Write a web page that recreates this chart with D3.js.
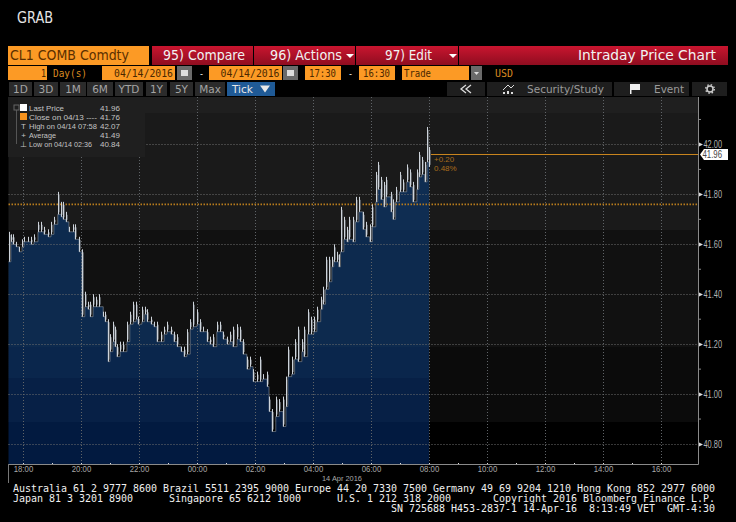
<!DOCTYPE html>
<html>
<head>
<meta charset="utf-8">
<script src="https://cdn.jsdelivr.net/npm/d3@7"></script>
<style>
  html, body { margin: 0; padding: 0; background: #000; overflow: hidden; }
  svg { display: block; }
  text { white-space: pre; }
  .ui { font-family: "DejaVu Sans", sans-serif; }
  .mono { font-family: "DejaVu Sans Mono", monospace; }
  .small { font-family: "Liberation Sans", Arial, sans-serif; }
  .axis path { display: none; }
</style>
</head>
<body>
<div id="chart"></div>
<script>
// minutes since 17:30 on 04/13, one entry per tick bar
var tickMinutes = [
  0,5,9,16,22,28,32,40,47,53,
  61,67,73,82,88,94,102,109,113,119,
  125,133,138,146,152,158,164,169,175,181,
  187,196,200,206,210,216,220,224,231,237,
  245,251,258,264,268,276,282,287,295,301,
  307,315,322,328,336,342,349,357,363,369,
  376,382,390,396,402,411,417,423,431,438,
  444,452,458,464,473,479,485,493,500,506,
  514,520,526,535,539,545,553,560,568,574,
  578,586,592,599,607,611,619,625,632,638,
  646,650,656,663,669,673,679,683,687,694,
  700,704,712,718,725,733,739,747,753,760,
  764,770,776,782,791,795,801,809,816,824,
  830,836,845,849,855,861,866,870];
var highs = [
  41.65,41.64,41.64,41.61,41.59,41.62,41.63,41.63,41.63,41.64,
  41.69,41.69,41.67,41.66,41.69,41.71,41.81,41.77,41.77,41.73,
  41.67,41.68,41.68,41.63,41.58,41.41,41.37,41.37,41.40,41.39,
  41.40,41.33,41.33,41.30,41.24,41.29,41.27,41.20,41.21,41.21,
  41.29,41.33,41.37,41.37,41.31,41.35,41.35,41.34,41.31,41.29,
  41.29,41.25,41.27,41.29,41.27,41.25,41.24,41.19,41.19,41.26,
  41.30,41.37,41.34,41.30,41.27,41.26,41.23,41.24,41.29,41.29,
  41.25,41.23,41.25,41.27,41.28,41.27,41.22,41.15,41.15,41.10,
  41.09,41.15,41.08,41.09,40.99,40.94,40.99,40.98,40.99,41.07,
  41.19,41.15,41.22,41.27,41.22,41.27,41.34,41.31,41.31,41.35,
  41.39,41.43,41.55,41.55,41.55,41.60,41.57,41.56,41.75,41.71,
  41.67,41.71,41.71,41.79,41.79,41.73,41.69,41.68,41.76,41.89,
  41.93,41.87,41.85,41.87,41.81,41.78,41.83,41.89,41.86,41.92,
  41.90,41.85,41.90,41.97,41.95,41.93,42.07,41.99];
var lows = [
  41.53,41.61,41.60,41.59,41.57,41.59,41.61,41.61,41.60,41.61,
  41.65,41.65,41.64,41.63,41.64,41.68,41.72,41.71,41.70,41.69,
  41.65,41.65,41.62,41.57,41.31,41.35,41.34,41.31,41.35,41.35,
  41.35,41.31,41.29,41.13,41.17,41.21,41.19,41.15,41.17,41.17,
  41.21,41.28,41.29,41.30,41.28,41.29,41.32,41.29,41.28,41.27,
  41.21,41.21,41.24,41.25,41.24,41.21,41.19,41.17,41.15,41.16,
  41.26,41.27,41.28,41.25,41.25,41.21,41.20,41.19,41.25,41.25,
  41.22,41.20,41.21,41.19,41.22,41.21,41.16,41.10,41.11,41.05,
  41.05,41.05,41.06,41.03,40.93,40.85,40.91,40.93,40.87,40.95,
  41.07,41.08,41.14,41.13,41.17,41.15,41.24,41.24,41.25,41.29,
  41.34,41.36,41.42,41.45,41.51,41.53,41.53,41.51,41.57,41.62,
  41.61,41.62,41.61,41.69,41.73,41.66,41.63,41.61,41.67,41.77,
  41.82,41.78,41.75,41.79,41.73,41.70,41.77,41.81,41.81,41.85,
  41.83,41.77,41.82,41.87,41.88,41.85,41.93,41.91];

var lastPrice = 41.96, prevClose = 41.76;
var majorPrices = [42.00, 41.80, 41.60, 41.40, 41.20, 41.00, 40.80];
var minorPrices = [42.10, 41.90, 41.70, 41.50, 41.30, 41.10, 40.90];
var hourTicks = [30,150,270,390,510,630,750,870,990,1110,1230,1350];
var hourMinor = [90,210,330,450,570,690,810,930,1050,1170,1290];
var hourLabels = ["18:00","20:00","22:00","00:00","02:00","04:00","06:00","08:00","10:00","12:00","14:00","16:00"];
var rangeButtons = ["1D","3D","1M","6M","YTD","1Y","5Y","Max"];
var legendLabels = ["Last Price","Close on 04/13 ----","High on 04/14 07:58","Average","Low on 04/14 02:36"];
var legendValues = ["41.96","41.76","42.07","41.49","40.84"];
var footerLines = [
  "Australia 61 2 9777 8600 Brazil 5511 2395 9000 Europe 44 20 7330 7500 Germany 49 69 9204 1210 Hong Kong 852 2977 6000",
  "Japan 81 3 3201 8900      Singapore 65 6212 1000      U.S. 1 212 318 2000       Copyright 2016 Bloomberg Finance L.P.",
  "SN 725688 H453-2837-1 14-Apr-16  8:13:49 VET  GMT-4:30"];

var bars = tickMinutes.map(function(m, i) {
  return {minute: m, high: highs[i], low: lows[i]};
});

var svg = d3.select("#chart").append("svg")
    .attr("width", 736)
    .attr("height", 522);

var plot = {left: 8.5, right: 698, top: 97, bottom: 464};

var x = d3.scaleLinear().domain([0, 1380]).range([plot.left, plot.left + 667]);
var y = d3.scaleLinear().domain([40.72, 42.19]).range([plot.bottom, plot.top]);

// hard stop gradients give the banded look of the terminal
function bands(id, stops) {
  var grad = svg.append("defs").append("linearGradient")
      .attr("id", id)
      .attr("gradientUnits", "userSpaceOnUse")
      .attr("x1", 0).attr("x2", 0)
      .attr("y1", plot.top).attr("y2", plot.bottom);
  stops.forEach(function(s, i) {
    var from = (s[0] - plot.top) / (plot.bottom - plot.top);
    var to = i < stops.length - 1 ? (stops[i + 1][0] - plot.top) / (plot.bottom - plot.top) : 1;
    grad.append("stop").attr("offset", from).attr("stop-color", s[1]);
    grad.append("stop").attr("offset", to).attr("stop-color", s[1]);
  });
}
bands("bgBands", [[97,"#1f1f1f"],[113,"#1a1a1a"],[230,"#111111"],[347,"#0b0b0b"],[422,"#000000"]]);
bands("blueBands", [[97,"#0f2d52"],[230,"#0d2a4e"],[347,"#0a264c"],[378,"#072046"],[422,"#021a40"]]);

svg.append("rect")
    .attr("x", plot.left).attr("y", plot.top)
    .attr("width", plot.right - plot.left).attr("height", plot.bottom - plot.top)
    .attr("fill", "url(#bgBands)");

// blue area under the ticks
var area = d3.area()
    .curve(d3.curveStepAfter)
    .x(function(d) { return x(d.minute); })
    .y0(plot.bottom)
    .y1(function(d) { return y(d.low); });
svg.append("path")
    .datum(bars)
    .attr("d", area)
    .attr("fill", "url(#blueBands)");

// grid
svg.append("g").selectAll("line")
    .data(majorPrices)
    .enter().append("line")
    .attr("x1", plot.left).attr("x2", plot.right)
    .attr("y1", function(d) { return Math.round(y(d)) + 0.5; })
    .attr("y2", function(d) { return Math.round(y(d)) + 0.5; })
    .attr("stroke", "#6e6e6e")
    .attr("stroke-dasharray", "1,2");
svg.append("g").selectAll("line")
    .data(hourTicks)
    .enter().append("line")
    .attr("y1", plot.top).attr("y2", plot.bottom)
    .attr("x1", function(d) { return Math.round(x(d)) + 0.5; })
    .attr("x2", function(d) { return Math.round(x(d)) + 0.5; })
    .attr("stroke", "#606468")
    .attr("stroke-dasharray", "1,2");

// previous close and last price
svg.append("line")
    .attr("x1", plot.left).attr("x2", plot.right)
    .attr("y1", y(prevClose)).attr("y2", y(prevClose))
    .attr("stroke", "#b87c1c").attr("stroke-width", 1.6)
    .attr("stroke-dasharray", "1.5,1.5");
svg.append("line")
    .attr("x1", x(870)).attr("x2", plot.right)
    .attr("y1", Math.round(y(lastPrice)) + 0.5).attr("y2", Math.round(y(lastPrice)) + 0.5)
    .attr("stroke", "#c8841e");

// tick bars, a grey under layer then the bright line
function barX(d) { return Math.round(x(d.minute)) + 0.5; }
svg.append("path")
    .datum(bars)
    .attr("d", d3.line().curve(d3.curveStepAfter)
      .x(function(d) { return x(d.minute); })
      .y(function(d) { return y(d.low); }))
    .attr("fill", "none")
    .attr("stroke", "#8a929c")
    .attr("stroke-width", 0.6);
svg.append("g").selectAll("line")
    .data(bars)
    .enter().append("line")
    .attr("x1", function(d) { return barX(d) + 1; })
    .attr("x2", function(d) { return barX(d) + 1; })
    .attr("y1", function(d) { return y(d.high) + 3; })
    .attr("y2", function(d) { return y(d.low) - 2; })
    .attr("stroke", "#55595e");
svg.append("g").selectAll("line")
    .data(bars)
    .enter().append("line")
    .attr("x1", barX)
    .attr("x2", barX)
    .attr("y1", function(d) { return y(d.high); })
    .attr("y2", function(d) { return y(d.low); })
    .attr("stroke", "#cdd3da")
    .attr("stroke-width", 1);

// axes
var xAxis = svg.append("g")
    .attr("class", "axis small")
    .attr("transform", "translate(0," + plot.bottom + ")")
    .call(d3.axisBottom(x).tickValues(hourTicks).tickSize(0).tickPadding(2)
      .tickFormat(function(d, i) { return hourLabels[i]; }));
xAxis.selectAll("text")
    .attr("fill", "#a8a8a8").attr("textLength", 19.5).attr("lengthAdjust", "spacingAndGlyphs")
    .style("font-size", "9px").style("font-family", "Liberation Sans");

svg.append("g").selectAll("line")
    .data(hourTicks.concat(hourMinor))
    .enter().append("line")
    .attr("x1", function(d) { return Math.round(x(d)) + 0.5; })
    .attr("x2", function(d) { return Math.round(x(d)) + 0.5; })
    .attr("y1", plot.bottom - 1).attr("y2", plot.bottom + 1)
    .attr("stroke", "#ddd");

var yAxis = svg.append("g")
    .attr("class", "axis small")
    .attr("transform", "translate(" + plot.right + ",0)")
    .call(d3.axisRight(y).tickValues(majorPrices).tickSize(0).tickPadding(5.5)
      .tickFormat(d3.format(".2f")));
yAxis.selectAll("text")
    .attr("fill", "#b4b4b4").attr("textLength", 18.5).attr("lengthAdjust", "spacingAndGlyphs")
    .style("font-size", "10px").style("font-family", "Liberation Sans");

svg.append("g").selectAll("path")
    .data(majorPrices)
    .enter().append("path")
    .attr("d", function(d) {
      var py = Math.round(y(d)) + 0.5;
      return "M" + (plot.right + 1) + "," + (py - 2) + "L" + (plot.right + 5) + "," + py + "L" + (plot.right + 1) + "," + (py + 2) + "Z";
    })
    .attr("fill", "#ddd");
svg.append("g").selectAll("line")
    .data(minorPrices)
    .enter().append("line")
    .attr("x1", plot.right).attr("x2", plot.right + 3)
    .attr("y1", function(d) { return y(d); })
    .attr("y2", function(d) { return y(d); })
    .attr("stroke", "#888");

svg.append("line").attr("x1", plot.right + 0.5).attr("x2", plot.right + 0.5)
    .attr("y1", plot.top).attr("y2", plot.bottom + 0.5).attr("stroke", "#8a8a8a");
svg.append("line").attr("x1", plot.left).attr("x2", plot.right + 0.5)
    .attr("y1", plot.bottom + 0.5).attr("y2", plot.bottom + 0.5).attr("stroke", "#8a8a8a");
svg.append("line").attr("x1", 8.5).attr("x2", 8.5)
    .attr("y1", plot.bottom).attr("y2", plot.bottom + 19).attr("stroke", "#777");

svg.append("text").attr("class", "small")
    .attr("x", 322).attr("y", 481)
    .attr("textLength", 40).attr("lengthAdjust", "spacingAndGlyphs")
    .attr("fill", "#a8a8a8").style("font-size", "8px").text("14 Apr 2016");

// change labels and last price flag
svg.append("text").attr("class", "small").attr("x", 434).attr("y", 162)
    .attr("fill", "#a86c1c").style("font-size", "8px").text("+0.20");
svg.append("text").attr("class", "small").attr("x", 434).attr("y", 171)
    .attr("fill", "#a86c1c").style("font-size", "8px").text("0.48%");
var flagY = Math.round(y(lastPrice)) + 0.5;
svg.append("path")
    .attr("d", "M700," + flagY + "L704," + (flagY - 5.5) + "H728V" + (flagY + 5.5) + "H704Z")
    .attr("fill", "#fff");
svg.append("text").attr("class", "small").attr("x", 702.5).attr("y", flagY + 3.5)
    .attr("textLength", 19.5).attr("lengthAdjust", "spacingAndGlyphs")
    .attr("fill", "#444").style("font-size", "10px").text(lastPrice.toFixed(2));

// legend
svg.append("rect").attr("x", 8).attr("y", 97).attr("width", 137).attr("height", 60)
    .attr("fill", "#1f1f1f");
svg.append("line").attr("x1", 16.5).attr("x2", 16.5).attr("y1", 110).attr("y2", 144).attr("stroke", "#555");
svg.append("rect").attr("x", 14).attr("y", 105).attr("width", 5).attr("height", 5)
    .attr("fill", "none").attr("stroke", "#666");
svg.append("rect").attr("x", 20).attr("y", 104).attr("width", 7).attr("height", 7).attr("fill", "#fff");
svg.append("rect").attr("x", 20).attr("y", 113).attr("width", 7).attr("height", 7).attr("fill", "#f7931e");
var legendMarks = ["", "", "T", "+", "\u22a5"];
var legendWidths = [35, 68, 68, 27, 63];
legendLabels.forEach(function(label, i) {
  var ly = 111 + i * 9;
  svg.append("text").attr("class", "small").attr("x", 29).attr("y", ly)
      .attr("textLength", legendWidths[i]).attr("lengthAdjust", "spacingAndGlyphs")
      .attr("fill", "#c4c4c4").style("font-size", "8px").text(label);
  svg.append("text").attr("class", "small").attr("x", 120).attr("y", ly)
      .attr("text-anchor", "end")
      .attr("fill", "#c4c4c4").style("font-size", "8px").text(legendValues[i]);
  if (legendMarks[i]) {
    svg.append("text").attr("class", "small").attr("x", 23.5).attr("y", ly)
        .attr("text-anchor", "middle")
        .attr("fill", "#c4c4c4").style("font-size", "8px").text(legendMarks[i]);
  }
});

// header row
var redGrad = svg.append("defs").append("linearGradient")
    .attr("id", "redBtn").attr("x1", 0).attr("x2", 0).attr("y1", 0).attr("y2", 1);
redGrad.append("stop").attr("offset", 0).attr("stop-color", "#c9152f");
redGrad.append("stop").attr("offset", 1).attr("stop-color", "#8f0d20");

svg.append("text").attr("class", "ui").attr("x", 17).attr("y", 23)
    .attr("textLength", 36).attr("lengthAdjust", "spacingAndGlyphs")
    .attr("fill", "#e4e4e4").style("font-size", "15px").text("GRAB");

svg.append("rect").attr("x", 8).attr("y", 46).attr("width", 141).attr("height", 19).attr("fill", "#fc9a25");
svg.append("text").attr("class", "ui").attr("x", 10).attr("y", 60)
    .attr("textLength", 119).attr("lengthAdjust", "spacingAndGlyphs")
    .attr("fill", "#5b2f00").style("font-size", "14px").text("CL1 COMB Comdty");

var redButtons = [
  {x: 152, w: 101, label: "95) Compare", tx: 163, tw: 82, arrow: false},
  {x: 254, w: 101, label: "96) Actions", tx: 270, tw: 72, arrow: true},
  {x: 356, w: 102, label: "97) Edit", tx: 385, tw: 47, arrow: true},
  {x: 459, w: 269, label: "Intraday Price Chart", tx: 578, tw: 138, arrow: false}
];
redButtons.forEach(function(b) {
  svg.append("rect").attr("x", b.x).attr("y", 46).attr("width", b.w).attr("height", 19)
      .attr("fill", "url(#redBtn)");
  svg.append("text").attr("class", "ui").attr("x", b.tx).attr("y", 60)
      .attr("textLength", b.tw).attr("lengthAdjust", "spacingAndGlyphs")
      .attr("fill", "#f2f2f2").style("font-size", "14px").text(b.label);
  if (b.arrow) {
    var ax = b.x + b.w - 5;
    svg.append("path")
        .attr("d", "M" + (ax - 4) + ",54H" + (ax + 4) + "L" + ax + ",58Z")
        .attr("fill", "#fff");
  }
});

// second row
var orangeBoxes = [[8,39],[102,73],[209,73],[305,36],[359,36],[402,67]];
orangeBoxes.forEach(function(b) {
  svg.append("rect").attr("x", b[0]).attr("y", 66).attr("width", b[1]).attr("height", 14).attr("fill", "#fc9a25");
});
[177, 283].forEach(function(cx) {
  svg.append("rect").attr("x", cx).attr("y", 66).attr("width", 15).attr("height", 14).attr("fill", "#6a6a6a");
  svg.append("rect").attr("x", cx + 4).attr("y", 70).attr("width", 7).attr("height", 6).attr("fill", "#ddd");
});
svg.append("rect").attr("x", 471).attr("y", 66).attr("width", 11).attr("height", 14).attr("fill", "#6a6a6a");
svg.append("path").attr("d", "M474,72H479L476.5,75Z").attr("fill", "#ddd");

var rowTexts = [
  {x: 41, t: "1", c: "#4a2800", w: 5},
  {x: 53, t: "Day(s)", c: "#d98a20", w: 34},
  {x: 114, t: "04/14/2016", c: "#4a2800", w: 59},
  {x: 199, t: "-", c: "#e0e0e0", w: 5},
  {x: 220.5, t: "04/14/2016", c: "#4a2800", w: 59},
  {x: 348, t: "-", c: "#e0e0e0", w: 5},
  {x: 309, t: "17:30", c: "#4a2800", w: 27},
  {x: 363, t: "16:30", c: "#4a2800", w: 27},
  {x: 404, t: "Trade", c: "#4a2800", w: 27},
  {x: 495, t: "USD", c: "#d98a20", w: 18}
];
rowTexts.forEach(function(r) {
  svg.append("text").attr("class", "mono").attr("x", r.x).attr("y", 77)
      .attr("textLength", r.w).attr("lengthAdjust", "spacingAndGlyphs")
      .attr("fill", r.c).style("font-size", "11px").text(r.t);
});

// third row
var rangeX = [9,34,60,87,115,146,170,195];
var rangeW = [23,24,26,26,28,21,23,30];
rangeButtons.forEach(function(label, i) {
  svg.append("rect").attr("x", rangeX[i]).attr("y", 82).attr("width", rangeW[i]).attr("height", 14).attr("fill", "#2b2b2b");
  svg.append("text").attr("class", "ui").attr("x", rangeX[i] + rangeW[i] / 2).attr("y", 93)
      .attr("text-anchor", "middle").attr("fill", "#a4a4a4").style("font-size", "10.5px").text(label);
});
svg.append("rect").attr("x", 227).attr("y", 82).attr("width", 48).attr("height", 14).attr("fill", "#1f5a96");
svg.append("text").attr("class", "ui").attr("x", 232).attr("y", 93)
    .attr("fill", "#e8e8e8").style("font-size", "10.5px").text("Tick");
svg.append("path").attr("d", "M260,85.5H270L265,92.5Z").attr("fill", "#e8e8e8");

[[447,38],[487,125],[614,75],[692,35]].forEach(function(b) {
  svg.append("rect").attr("x", b[0]).attr("y", 82).attr("width", b[1]).attr("height", 14).attr("fill", "#1e1e1e");
});
svg.append("path").attr("d", "M466,85L461,89L466,93M471,85L466,89L471,93")
    .attr("fill", "none").attr("stroke", "#ddd").attr("stroke-width", 1.3);
svg.append("path").attr("d", "M503,90L508,85L511,88L514,85")
    .attr("fill", "none").attr("stroke", "#ddd");
svg.append("path").attr("d", "M503,94v-2h2v2ZM507,94v-3h2v3ZM511,94v-2h2v2Z").attr("fill", "#ddd");
svg.append("text").attr("class", "ui").attr("x", 527).attr("y", 93)
    .attr("fill", "#9a9a9a").style("font-size", "10.5px").text("Security/Study");
svg.append("path").attr("d", "M630,84V94H631.5V90H640V84Z").attr("fill", "#f0f0f0");
svg.append("text").attr("class", "ui").attr("x", 654).attr("y", 93)
    .attr("fill", "#9a9a9a").style("font-size", "10.5px").text("Event");
svg.append("circle").attr("cx", 710).attr("cy", 89).attr("r", 3)
    .attr("fill", "none").attr("stroke", "#ccc").attr("stroke-width", 1.5);
svg.append("circle").attr("cx", 710).attr("cy", 89).attr("r", 4.3)
    .attr("fill", "none").attr("stroke", "#ccc").attr("stroke-width", 1.4)
    .attr("stroke-dasharray", "1.5,1.9");

// footer
var footerWidths = [702, 702, 324];
footerLines.forEach(function(line, i) {
  svg.append("text").attr("class", "mono")
      .attr("x", i === 2 ? 391 : 13).attr("y", 492 + i * 10)
      .attr("textLength", footerWidths[i]).attr("lengthAdjust", "spacingAndGlyphs")
      .attr("fill", "#f0f0f0").style("font-size", "10px").text(line);
});
</script>
</body>
</html>
